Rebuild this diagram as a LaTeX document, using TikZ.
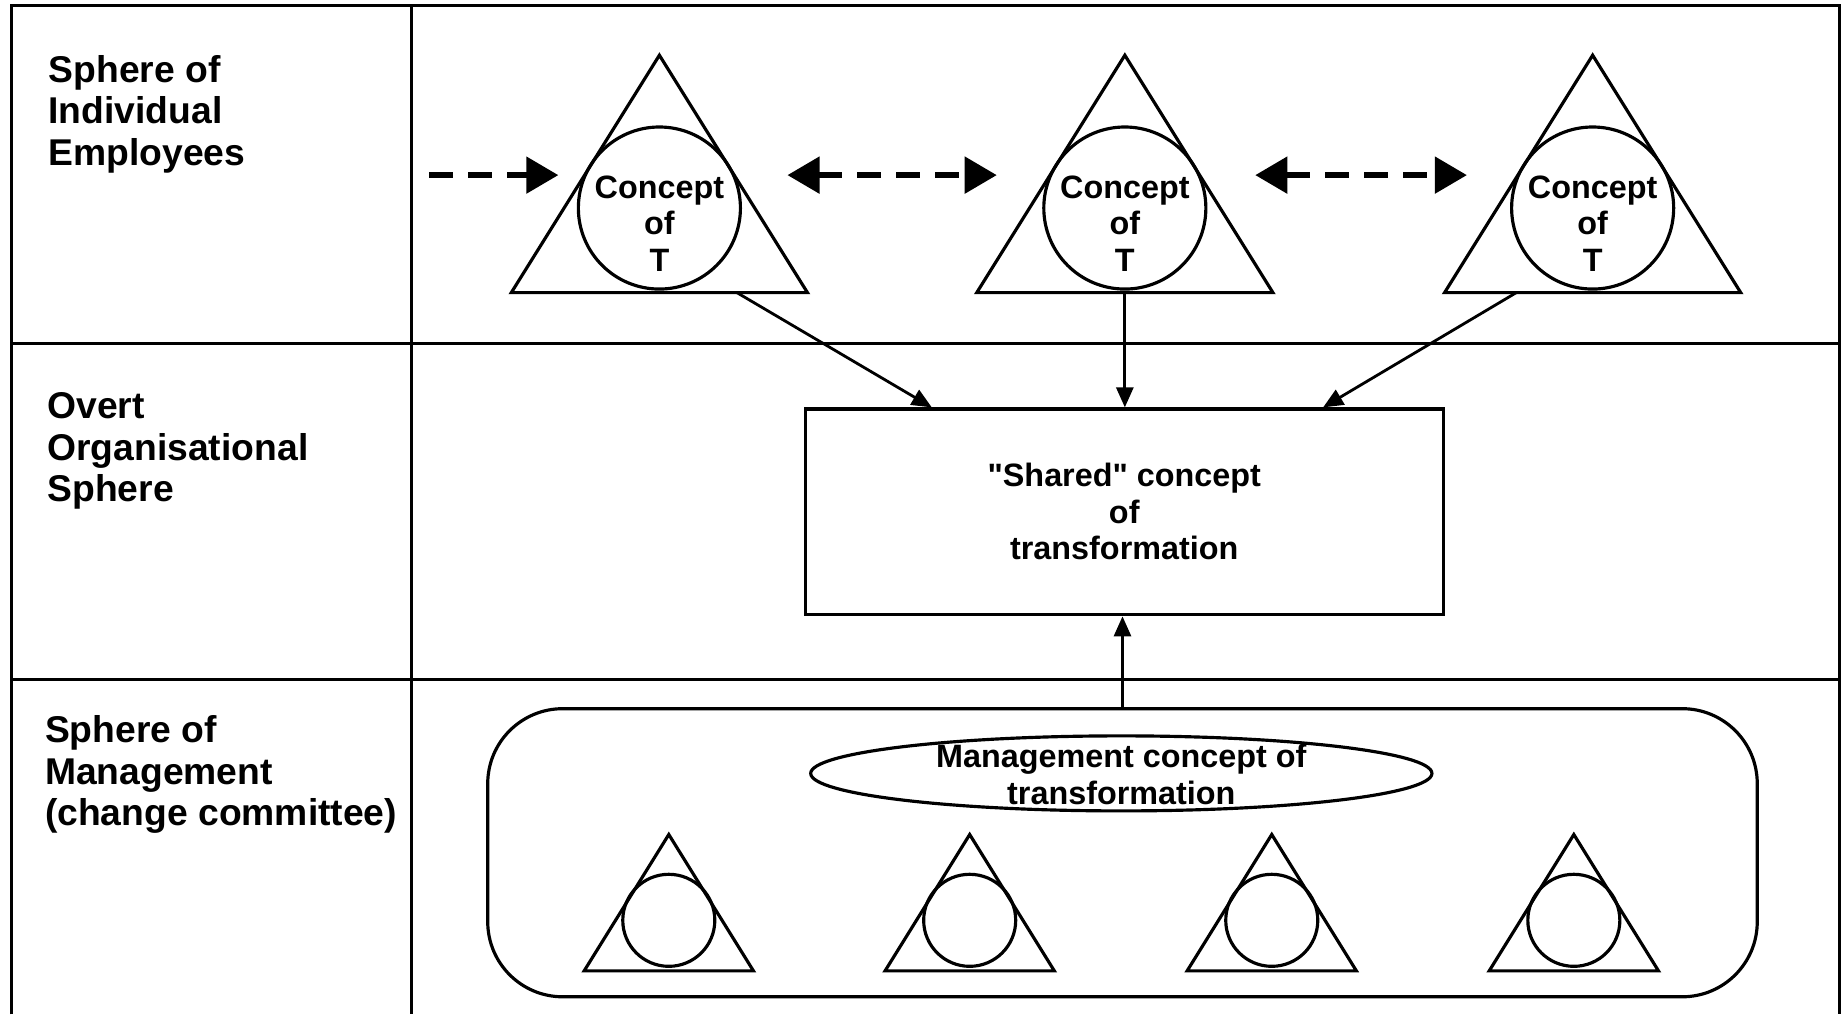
\documentclass[tikz,border=0pt]{standalone}
\usepackage{fontspec}
\setmainfont{Liberation Sans}[Ligatures=TeXOff]
\usetikzlibrary{positioning,shapes.geometric,arrows.meta,calc}

\tikzset{
    bigtip/.tip={Triangle[length=3.2mm,width=3.6mm]},
    rowlabel/.style={anchor=west, align=left, inner sep=0pt, font=\bfseries\fontsize{10.6}{11.8}\selectfont},
    smalltext/.style={align=center, inner sep=0pt, font=\bfseries\fontsize{9.2}{10.4}\selectfont},
    dasharrow/.style={line width=1.5pt, dash pattern=on 6.7pt off 4.4pt},
    flow/.style={line width=0.8pt, -{Triangle[length=2mm,width=1.7mm]}},
    tri/.style={line width=0.9pt, line join=miter},
}

\begin{document}
\begin{tikzpicture}[x=0.011754cm, y=-0.011754cm, line width=0.9pt]
    \useasboundingbox (0,0) rectangle (1568,863);
    \draw (10,863) -- (10,5) -- (1565,5) -- (1565,863);
    \draw (350,5) -- (350,863);
    \draw (10,292) -- (1565,292);
    \draw (10,578) -- (1565,578);

    \node[rowlabel] (emp) at (40,97) {Sphere of\\Individual\\Employees};
    \node[rowlabel] (ovr) at (39,384) {Overt\\Organisational\\Sphere};
    \node[rowlabel] (mgr) at (37,659) {Sphere of\\Management\\(change committee)};

    \foreach \x [count=\i] in {561,957,1355}
    {
        \draw[tri] (\x-126,249) -- (\x,47) -- (\x+126,249) -- cycle;
        \node[circle, draw, minimum size=1.62cm, inner sep=0pt] (c\i) at (\x,177) {};
        \node[smalltext] (t\i) at (\x,190) {Concept\\of\\T};
        \coordinate (b\i) at (\x,249);
    }

    \coordinate (dstart) at (365,149);
    \draw[dasharrow, -bigtip] (dstart) -- ($(c1)+(-86,-28)$);
    \draw[dasharrow, bigtip-bigtip] ($(c1)+(109,-28)$) -- ($(c2)+(-109,-28)$);
    \draw[dasharrow, bigtip-bigtip] ($(c2)+(111,-28)$) -- ($(c3)+(-107,-28)$);

    \node[draw, minimum width=6.38cm, minimum height=2.057cm, smalltext] (shared) at (956.5,435.5) {"Shared" concept\\of\\transformation};

    \draw[flow] ($(b1)+(66,0)$) -- ($(shared.north west)!0.2!(shared.north east)$);
    \draw[flow] (b2) -- (b2 |- shared.north);
    \draw[flow] ($(b3)+(-65,0)$) -- ($(shared.north west)!0.81!(shared.north east)$);

    \node[draw, rounded corners=0.75cm, minimum width=12.69cm, minimum height=2.88cm] (mgmt) at (955,725.5) {};
    \draw[flow] (mgmt.north) -- (mgmt.north |- shared.south);

    \node[ellipse, draw, minimum width=6.21cm, minimum height=0.75cm, inner sep=0pt] (mell) at (954,658) {};
    \node[smalltext] (mtext) at (954,659) {Management concept of\\transformation};

    \foreach \x [count=\i] in {569,825,1082,1339}
    {
        \draw[tri] (\x-72,826) -- (\x,710) -- (\x+72,826) -- cycle;
        \node[circle, draw, minimum size=0.92cm, inner sep=0pt] (m\i) at (\x,783) {};
    }
\end{tikzpicture}
\end{document}
